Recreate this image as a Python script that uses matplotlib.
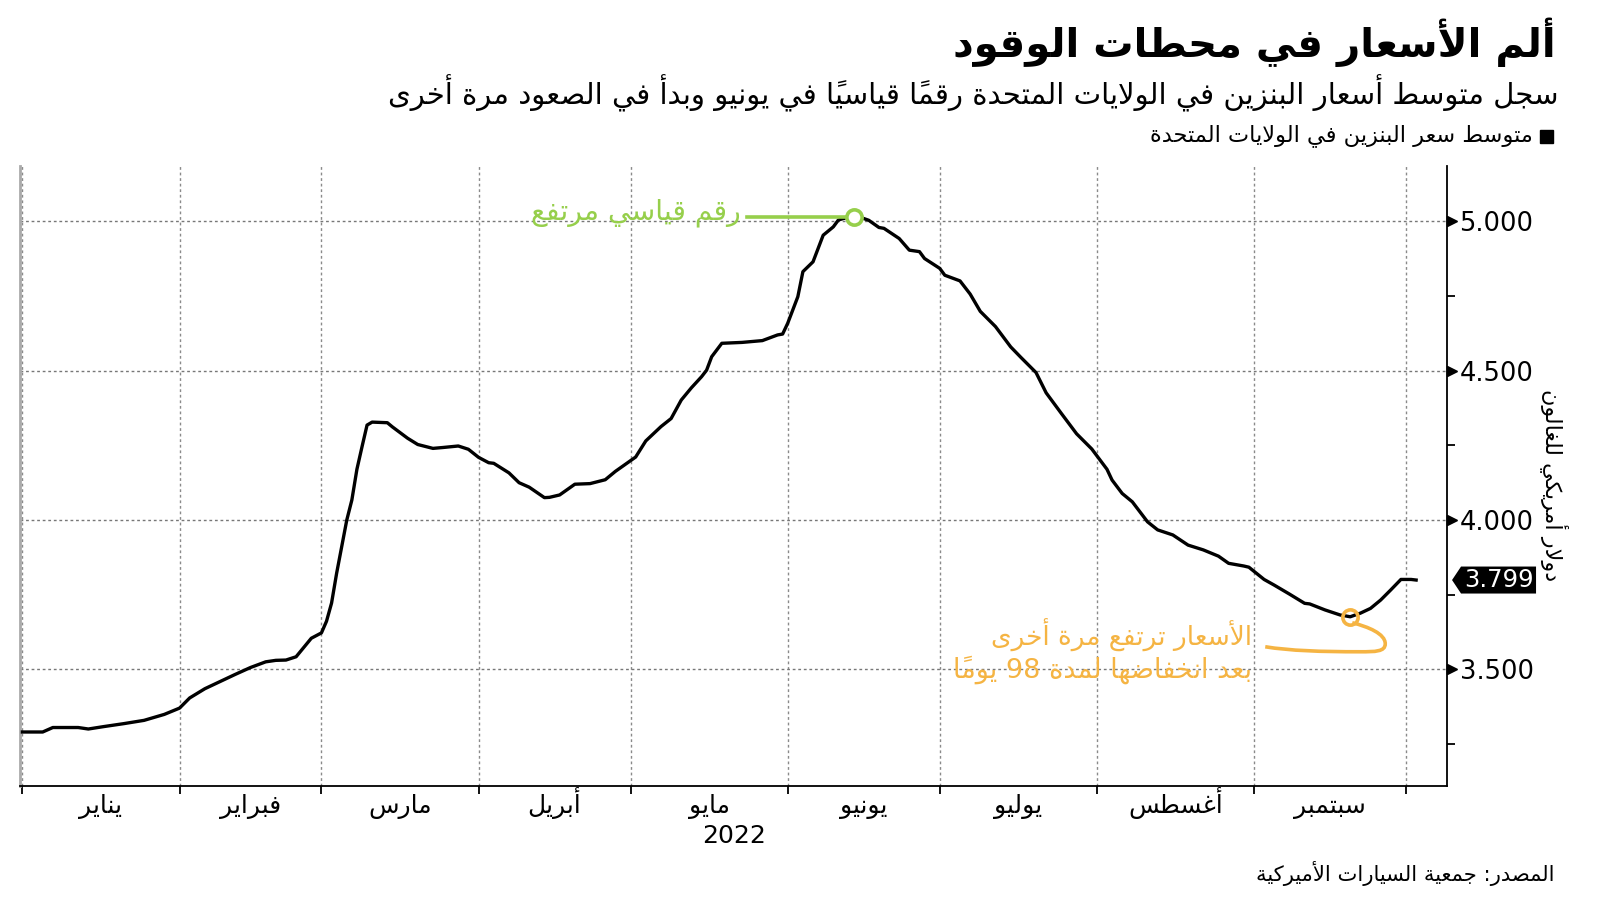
import numpy as np
import pandas as pd
import matplotlib
matplotlib.use('Agg')
import matplotlib.pyplot as plt
import matplotlib.transforms as mtransforms
from matplotlib.path import Path
from matplotlib.patches import PathPatch, Polygon, Rectangle

plt.rcParams['font.family'] = ['DejaVu Sans']

# ---- data (AAA national average) ----
dates = ['2022-01-01', '2022-01-05', '2022-01-07', '2022-01-12', '2022-01-14', '2022-01-17',
         '2022-01-21', '2022-01-25', '2022-01-29', '2022-02-01', '2022-02-03', '2022-02-06',
         '2022-02-09', '2022-02-12', '2022-02-15', '2022-02-18', '2022-02-20', '2022-02-22',
         '2022-02-24', '2022-02-27', '2022-03-01', '2022-03-02', '2022-03-03', '2022-03-04',
         '2022-03-05', '2022-03-06', '2022-03-07', '2022-03-08', '2022-03-09', '2022-03-10',
         '2022-03-11', '2022-03-14', '2022-03-15', '2022-03-18', '2022-03-20', '2022-03-23',
         '2022-03-25', '2022-03-28', '2022-03-30', '2022-04-01', '2022-04-03', '2022-04-04',
         '2022-04-07', '2022-04-09', '2022-04-11', '2022-04-14', '2022-04-15', '2022-04-17',
         '2022-04-20', '2022-04-23', '2022-04-26', '2022-04-28', '2022-04-30', '2022-05-02',
         '2022-05-04', '2022-05-07', '2022-05-09', '2022-05-11', '2022-05-13', '2022-05-15',
         '2022-05-16', '2022-05-17', '2022-05-19', '2022-05-23', '2022-05-27', '2022-05-30',
         '2022-05-31', '2022-06-01', '2022-06-03', '2022-06-04', '2022-06-06', '2022-06-08',
         '2022-06-10', '2022-06-11', '2022-06-12', '2022-06-14', '2022-06-16', '2022-06-17',
         '2022-06-19', '2022-06-20', '2022-06-23', '2022-06-25', '2022-06-27', '2022-06-28',
         '2022-07-01', '2022-07-02', '2022-07-05', '2022-07-07', '2022-07-09', '2022-07-12',
         '2022-07-15', '2022-07-17', '2022-07-20', '2022-07-22', '2022-07-25', '2022-07-28',
         '2022-07-31', '2022-08-03', '2022-08-04', '2022-08-06', '2022-08-08', '2022-08-11',
         '2022-08-13', '2022-08-16', '2022-08-19', '2022-08-22', '2022-08-25', '2022-08-27',
         '2022-08-30', '2022-08-31', '2022-09-03', '2022-09-05', '2022-09-08', '2022-09-11',
         '2022-09-12', '2022-09-15', '2022-09-18', '2022-09-20', '2022-09-22', '2022-09-24',
         '2022-09-26', '2022-09-28', '2022-09-30', '2022-10-01', '2022-10-02', '2022-10-03']
prices = [3.290, 3.290, 3.305, 3.305, 3.300, 3.308,
          3.318, 3.329, 3.349, 3.370, 3.404, 3.435,
          3.459, 3.483, 3.506, 3.525, 3.530, 3.531,
          3.542, 3.604, 3.622, 3.661, 3.722, 3.822,
          3.911, 4.000, 4.067, 4.170, 4.245, 4.318,
          4.328, 4.326, 4.312, 4.274, 4.253, 4.240,
          4.243, 4.248, 4.237, 4.210, 4.192, 4.190,
          4.158, 4.125, 4.110, 4.075, 4.076, 4.084,
          4.120, 4.122, 4.135, 4.163, 4.187, 4.211,
          4.265, 4.313, 4.340, 4.402, 4.443, 4.480,
          4.502, 4.547, 4.592, 4.595, 4.601, 4.620,
          4.623, 4.659, 4.748, 4.832, 4.865, 4.954,
          4.982, 5.005, 5.010, 5.016, 5.010, 5.004,
          4.980, 4.977, 4.943, 4.904, 4.899, 4.876,
          4.843, 4.820, 4.801, 4.757, 4.699, 4.648,
          4.580, 4.545, 4.494, 4.426, 4.357, 4.289,
          4.238, 4.170, 4.134, 4.089, 4.061, 3.994,
          3.967, 3.950, 3.916, 3.900, 3.879, 3.855,
          3.846, 3.842, 3.801, 3.782, 3.752, 3.721,
          3.719, 3.699, 3.682, 3.676, 3.688, 3.704,
          3.732, 3.766, 3.801, 3.801, 3.801, 3.799]

months = ['يناير', 'فبراير', 'مارس', 'أبريل', 'مايو', 'يونيو', 'يوليو', 'أغسطس', 'سبتمبر']
yticks = [3.5, 4.0, 4.5, 5.0]
yminor = [3.25, 3.75, 4.25, 4.75]

title = 'ألم الأسعار في محطات الوقود'
subtitle = 'سجل متوسط أسعار البنزين في الولايات المتحدة رقماً قياسياً في يونيو وبدأ في الصعود مرة أخرى'
legend_label = 'متوسط سعر البنزين في الولايات المتحدة'
ylabel = 'دولار أمريكي للغالون'
peak_note = 'رقم قياسي مرتفع'
low_note = ['الأسعار ترتفع مرة أخرى', 'بعد انخفاضها لمدة 98 يوماً']
source = 'المصدر: جمعية السيارات الأميركية'

GREEN = '#96CF4B'
ORANGE = '#F5B443'

# ---- minimal Arabic shaping (matplotlib has no text shaping) ----
_order = [('\u0621', 1), ('\u0622', 2), ('\u0623', 2), ('\u0624', 2), ('\u0625', 2),
          ('\u0626', 4), ('\u0627', 2), ('\u0628', 4), ('\u0629', 2), ('\u062A', 4),
          ('\u062B', 4), ('\u062C', 4), ('\u062D', 4), ('\u062E', 4), ('\u062F', 2),
          ('\u0630', 2), ('\u0631', 2), ('\u0632', 2), ('\u0633', 4), ('\u0634', 4),
          ('\u0635', 4), ('\u0636', 4), ('\u0637', 4), ('\u0638', 4), ('\u0639', 4),
          ('\u063A', 4), ('\u0641', 4), ('\u0642', 4), ('\u0643', 4), ('\u0644', 4),
          ('\u0645', 4), ('\u0646', 4), ('\u0647', 4), ('\u0648', 2), ('\u0649', 2),
          ('\u064A', 4)]
FORMS = {}
_code = 0xFE80
for _ch, _n in _order:
    FORMS[_ch] = [chr(_code + k) for k in range(_n)]
    _code += _n
LAM_ALEF = {'\u0622': ('\uFEF5', '\uFEF6'), '\u0623': ('\uFEF7', '\uFEF8'),
            '\u0625': ('\uFEF9', '\uFEFA'), '\u0627': ('\uFEFB', '\uFEFC')}


def ar(text):
    if not any('\u0600' <= c <= '\u06FF' for c in text):
        return text
    units = []
    i = 0
    while i < len(text):
        c = text[i]
        if '\u064B' <= c <= '\u0652' and units:
            units[-1][2] += c
        elif c == '\u0644' and i + 1 < len(text) and text[i + 1] in LAM_ALEF:
            units.append([c, LAM_ALEF[text[i + 1]], ''])
            i += 1
        else:
            units.append([c, None, ''])
        i += 1

    def dual(u):
        return u[1] is None and len(FORMS.get(u[0], [])) == 4

    def joins(u):
        return u[1] is not None or len(FORMS.get(u[0], [])) >= 2

    glyphs = []
    for k, u in enumerate(units):
        prev_ok = k > 0 and dual(units[k - 1]) and joins(u)
        next_ok = k + 1 < len(units) and dual(u) and joins(units[k + 1])
        if u[1] is not None:
            g = u[1][1 if prev_ok else 0]
        elif u[0] in FORMS:
            f = FORMS[u[0]]
            if len(f) == 4:
                idx = 3 if (prev_ok and next_ok) else 1 if prev_ok else 2 if next_ok else 0
            elif len(f) == 2:
                idx = 1 if prev_ok else 0
            else:
                idx = 0
            g = f[idx]
        else:
            g = u[0]
        glyphs.append(g + u[2])

    runs = []
    for g in glyphs:
        ltr = g.isascii() and g.isalnum()
        if runs and runs[-1][0] == ltr:
            runs[-1][1].append(g)
        else:
            runs.append([ltr, [g]])
    out = []
    for ltr, gs in reversed(runs):
        out.extend(gs if ltr else reversed(gs))
    return ''.join(out)


# ---- figure ----
base = pd.Timestamp('2022-01-01')
x = np.asarray((pd.to_datetime(dates) - base).days, dtype=float)
y = np.asarray(prices)
month_starts = np.asarray((pd.date_range('2022-01-01', '2022-10-01', freq='MS') - base).days, dtype=float)
month_mids = (month_starts[:-1] + month_starts[1:]) / 2

fig = plt.figure(figsize=(16, 9.01), dpi=100)
ax = fig.add_axes([0.01275, 0.1276, 0.89165, 0.6882])

ax.plot(x, y, color='black', lw=2.4, solid_joinstyle='round', zorder=3)

ax.set_xticks(month_starts)
ax.set_xticklabels([])
ax.tick_params(axis='x', which='major', length=6, width=1.3, color='black')
ax.grid(axis='x', which='major', ls=(0, (2, 2)), color='#8a8a8a', lw=1)

# month names on a common baseline, centred in each month
mtrans = mtransforms.offset_copy(ax.get_xaxis_transform(), fig=fig, y=-27 * 0.72, units='points')
for xm, m in zip(month_mids, months):
    ax.text(xm, 0, ar(m), transform=mtrans, ha='center', va='baseline', fontsize=18)

ax.yaxis.tick_right()
ax.set_yticks(yticks)
ax.set_yticklabels([f'{v:.3f}' for v in yticks])
ax.set_yticks(yminor, minor=True)
ax.tick_params(axis='y', which='major', length=0, pad=9, labelsize=18.5)
ax.tick_params(axis='y', which='minor', length=6, width=1.3, color='black')
ax.grid(axis='y', which='major', ls=(0, (2, 2)), color='#777777', lw=1)

ax.spines['top'].set_visible(False)
ax.spines['left'].set_color('#aaaaaa')
ax.spines['left'].set_linewidth(2)
ax.spines['right'].set_linewidth(1.3)
ax.spines['bottom'].set_linewidth(1.3)

# triangle markers on the major y ticks
tri = mtransforms.offset_copy(ax.get_yaxis_transform(), fig=fig, x=3.5, units='points')
ax.plot([1] * len(yticks), yticks, ls='none', marker='>', ms=7, color='black',
        transform=tri, clip_on=False)

# peak annotation
ip = int(np.argmax(y))
ax.plot(x[ip], y[ip], 'o', ms=11, mfc='white', mec=GREEN, mew=2.6, zorder=5)
tp = fig.dpi_scale_trans + mtransforms.ScaledTranslation(x[ip], y[ip], ax.transData)
ax.plot([-1.07, -0.09], [0, 0], color=GREEN, lw=2.6, transform=tp, clip_on=False, zorder=4)
ax.text(-1.13, -0.03, ar(peak_note), transform=tp, ha='right', va='baseline',
        color=GREEN, fontsize=20.3)

# low annotation
il = ip + int(np.argmin(y[ip:]))
ax.plot(x[il], y[il], 'o', ms=11, mfc='none', mec=ORANGE, mew=2.6, zorder=5)
tl = fig.dpi_scale_trans + mtransforms.ScaledTranslation(x[il], y[il], ax.transData)
verts = np.array([(2, -6), (18, -10), (35, -17), (35, -27),
                  (35, -35), (25, -35), (10, -35),
                  (-30, -35), (-60, -34), (-85, -30)]) / 100.0
codes = [Path.MOVETO] + [Path.CURVE4] * 9
ax.add_patch(PathPatch(Path(verts, codes), fc='none', ec=ORANGE, lw=2.6,
                       transform=tl, clip_on=False, zorder=4))
ax.text(-0.98, -0.29, ar(low_note[0]), transform=tl, ha='right', va='baseline',
        color=ORANGE, fontsize=19)
ax.text(-0.98, -0.605, ar(low_note[1]), transform=tl, ha='right', va='baseline',
        color=ORANGE, fontsize=19.5)

# last value tag
tv = fig.dpi_scale_trans + mtransforms.ScaledTranslation(1, y[-1], ax.get_yaxis_transform())
tag = np.array([(5, 0), (14, 13.5), (89, 13.5), (89, -13.5), (14, -13.5)]) / 100.0
ax.add_patch(Polygon(tag, closed=True, fc='black', ec='none', transform=tv, clip_on=False))
ax.text(0.52, 0.0, f'{y[-1]:.3f}', transform=tv, ha='center', va='center',
        color='white', fontsize=17.5)

ax.set_xlim(-0.4, 281.1)
ax.set_ylim(3.109, 5.186)

# figure texts
fig.text(1556 / 1600, 1 - 42 / 901, ar(title), ha='right', va='center',
         fontsize=29, fontweight='bold')
fig.text(1558 / 1600, 1 - 93 / 901, ar(subtitle), ha='right', va='center', fontsize=21)
fig.add_artist(Rectangle((1540 / 1600, 1 - 143 / 901), 13 / 1600, 13 / 901,
                         transform=fig.transFigure, color='black'))
fig.text(1533 / 1600, 1 - 136 / 901, ar(legend_label), ha='right', va='center', fontsize=16.2)
fig.text(1554 / 1600, 1 - 485 / 901, ar(ylabel), rotation=270, ha='center', va='center',
         fontsize=16)
fig.text(734 / 1600, 1 - 836 / 901, '2022', ha='center', va='center', fontsize=18)
fig.text(1555 / 1600, 1 - 874 / 901, ar(source), ha='right', va='center', fontsize=15.2)

fig.savefig('out.png', dpi=100)
